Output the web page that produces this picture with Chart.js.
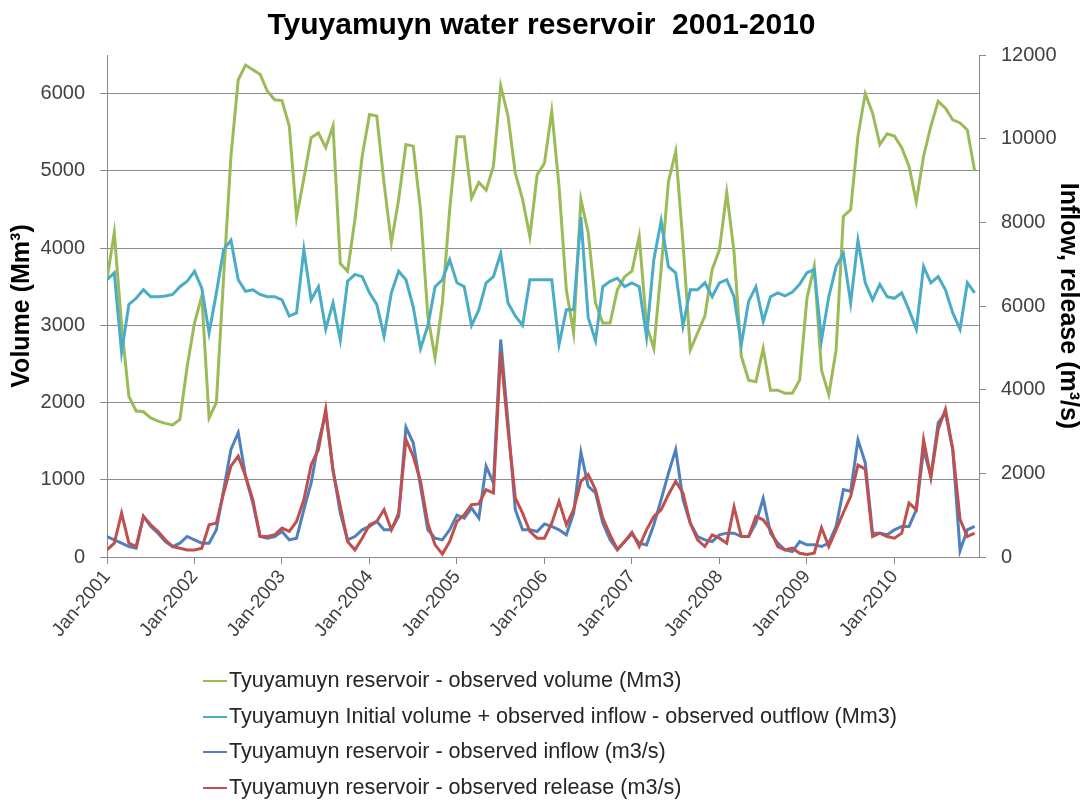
<!DOCTYPE html>
<html>
<head>
<meta charset="utf-8">
<title>Tyuyamuyn water reservoir 2001-2010</title>
<script src="https://cdn.jsdelivr.net/npm/chart.js@4.4.1/dist/chart.umd.min.js"></script>
<style>
body { margin: 0; background: #fff; font-family: "Liberation Sans", Arial, sans-serif; }
#wrap { position: relative; width: 1083px; height: 801px; }
#legend { position: absolute; left: 203px; top: 662px; }
.item { height: 35.5px; line-height: 35.5px; font-size: 21.6px; color: #262626; white-space: nowrap; }
.item .swatch { display: inline-block; width: 24px; height: 2px; vertical-align: middle; margin-right: 2px; }
</style>
</head>
<body>
<div id="wrap">
  <canvas id="myChart" width="1083" height="801"></canvas>
  <div id="legend"></div>
</div>
<script>
// monthly values Jan-2001 .. Dec-2010
var tickLabels = ['Jan-2001','Jan-2002','Jan-2003','Jan-2004','Jan-2005','Jan-2006','Jan-2007','Jan-2008','Jan-2009','Jan-2010'];
var volumeTicks = [0, 1000, 2000, 3000, 4000, 5000, 6000];
var flowTicks = [0, 2000, 4000, 6000, 8000, 10000, 12000];

var seriesNames = [
  'Tyuyamuyn reservoir - observed volume (Mm3)',
  'Tyuyamuyn Initial volume + observed inflow - observed outflow (Mm3)',
  'Tyuyamuyn reservoir - observed inflow (m3/s)',
  'Tyuyamuyn reservoir - observed release (m3/s)'
];

// observed volume (Mm3), left axis
var volume = [
  3600, 4200, 3000, 2080, 1890, 1880, 1800, 1760, 1730, 1710, 1780, 2470,
  3030, 3380, 1800, 2000, 3630, 5190, 6180, 6370, 6310, 6250, 6030, 5920,
  5910, 5580, 4400, 4900, 5430, 5490, 5300, 5580, 3800, 3700, 4370, 5190,
  5730, 5710, 4840, 4070, 4630, 5340, 5320, 4500, 3120, 2580, 3290, 4500,
  5440, 5440, 4650, 4850, 4750, 5060, 6100, 5710, 4970, 4630, 4150, 4950,
  5100, 5770, 4800, 3460, 2900, 4630, 4200, 3290, 3030, 3030, 3460, 3630,
  3700, 4150, 3000, 2700, 3720, 4860, 5250, 4070, 2680, 2900, 3120, 3720,
  3980, 4720, 3950, 2600, 2290, 2270, 2700, 2160, 2160, 2120, 2120, 2290,
  3350, 3760, 2420, 2100, 2680, 4410, 4500, 5450, 6000, 5750, 5340, 5480,
  5450, 5300, 5060, 4600, 5190, 5580, 5900, 5810, 5660, 5620, 5530, 5000
];

// initial volume + inflow - outflow (Mm3), left axis
var balance = [
  3590, 3680, 2650, 3270, 3350, 3460, 3370, 3370, 3380, 3400, 3500, 3570,
  3700, 3480, 2900, 3420, 3980, 4100, 3590, 3440, 3460, 3400, 3370, 3370,
  3330, 3120, 3160, 3980, 3330, 3500, 2950, 3290, 2810, 3570, 3660, 3630,
  3420, 3270, 2860, 3420, 3700, 3590, 3240, 2700, 2990, 3500, 3590, 3850,
  3550, 3500, 3000, 3200, 3550, 3630, 3930, 3290, 3120, 3000, 3590, 3590,
  3590, 3590, 2750, 3200, 3200, 4400, 3100, 2800, 3500, 3570, 3610, 3500,
  3550, 3500, 2850, 3850, 4350, 3760, 3680, 2990, 3460, 3460, 3550, 3370,
  3550, 3590, 3370, 2750, 3310, 3500, 3050, 3370, 3420, 3380, 3430, 3530,
  3680, 3720, 2810, 3370, 3760, 3930, 3290, 4100, 3550, 3330, 3530, 3370,
  3350, 3420, 3200, 2950, 3760, 3550, 3630, 3460, 3160, 2950, 3550, 3420
];

// observed inflow (m3/s), right axis
var inflow = [
  490, 410, 330, 250, 210, 970, 730, 570, 370, 250, 330, 490,
  410, 330, 330, 650, 1610, 2570, 2970, 1930, 1290, 490, 450, 490,
  610, 410, 450, 1130, 1770, 2730, 3450, 2090, 1050, 410, 490, 650,
  730, 850, 650, 650, 970, 3100, 2730, 1690, 650, 450, 410, 650,
  1000, 930, 1170, 930, 2170, 1770, 5200, 3210, 1130, 650, 650, 610,
  790, 730, 650, 530, 1050, 2500, 1690, 1530, 810, 410, 170, 370,
  550, 330, 290, 770, 1370, 2000, 2570, 1370, 810, 490, 410, 370,
  530, 570, 570, 490, 490, 810, 1400, 570, 330, 170, 130, 370,
  290, 290, 250, 330, 730, 1610, 1570, 2800, 2250, 570, 570, 530,
  650, 730, 730, 1130, 2570, 1930, 3210, 3450, 2570, 150, 650, 730
];

// observed release (m3/s), right axis
var release = [
  170, 330, 1050, 330, 250, 970, 770, 610, 410, 250, 210, 170,
  170, 210, 770, 810, 1530, 2170, 2410, 1930, 1370, 490, 490, 530,
  690, 610, 850, 1370, 2200, 2570, 3530, 2050, 1210, 370, 170, 450,
  770, 850, 1130, 650, 1050, 2810, 2410, 1810, 810, 290, 70, 370,
  850, 1010, 1250, 1270, 1610, 1530, 4890, 3050, 1410, 1050, 610, 450,
  450, 810, 1330, 770, 1130, 1810, 1970, 1610, 930, 530, 180, 370,
  590, 250, 650, 970, 1130, 1490, 1810, 1530, 810, 410, 250, 530,
  450, 330, 1200, 490, 490, 970, 890, 650, 250, 170, 210, 90,
  60, 90, 700, 250, 650, 1060, 1450, 2200, 2100, 490, 570, 490,
  450, 570, 1290, 1130, 2800, 1900, 3050, 3530, 2570, 900, 490, 570
];

var colors = ['#9bbb59', '#4bacc6', '#4f81bd', '#c0504d'];

function toPoints(arr) {
  return arr.map(function(v, i) { return { x: i, y: v }; });
}
function fixedTicks(list) {
  return function(scale) {
    scale.ticks = list.map(function(v) { return { value: v }; });
  };
}

var fontFamily = '"Liberation Sans", Arial, sans-serif';
var gridColor = '#8c8c8c';

var ctx = document.getElementById('myChart').getContext('2d');
var myChart = new Chart(ctx, {
  type: 'line',
  data: {
    datasets: [
      { label: seriesNames[0], data: toPoints(volume), yAxisID: 'yLeft', borderColor: colors[0], order: 4 },
      { label: seriesNames[1], data: toPoints(balance), yAxisID: 'yLeft', borderColor: colors[1], order: 3 },
      { label: seriesNames[2], data: toPoints(inflow), yAxisID: 'yRight', borderColor: colors[2], order: 2 },
      { label: seriesNames[3], data: toPoints(release), yAxisID: 'yRight', borderColor: colors[3], order: 1 }
    ]
  },
  options: {
    responsive: false,
    animation: false,
    events: [],
    datasets: {
      line: { borderWidth: 3, pointRadius: 0, tension: 0, fill: false }
    },
    layout: { padding: { left: 0, right: 0, top: 0, bottom: 150 } },
    plugins: {
      legend: { display: false },
      tooltip: { enabled: false },
      title: {
        display: true,
        text: 'Tyuyamuyn water reservoir  2001-2010',
        color: '#000',
        font: { family: fontFamily, size: 30, weight: 'bold' },
        padding: { top: 8, bottom: 11 }
      }
    },
    scales: {
      x: {
        type: 'linear',
        min: 0,
        max: 119.6,
        afterFit: function(s) { s.height = 94; },
        ticks: {
          stepSize: 12,
          includeBounds: false,
          autoSkip: false,
          minRotation: 50,
          maxRotation: 50,
          padding: 2,
          color: '#404040',
          font: { family: fontFamily, size: 19 },
          callback: function(v) { return tickLabels[Math.round(v / 12)]; }
        },
        grid: { drawOnChartArea: false, tickLength: 7, color: gridColor },
        border: { color: gridColor }
      },
      yLeft: {
        position: 'left',
        min: 0,
        max: 6500,
        afterFit: function(s) { s.width = 107; },
        afterBuildTicks: fixedTicks(volumeTicks),
        ticks: {
          padding: 15,
          color: '#404040',
          font: { family: fontFamily, size: 20 },
          callback: function(v) { return String(v); }
        },
        grid: { color: gridColor, tickLength: 7 },
        border: { color: gridColor },
        title: {
          display: true,
          text: 'Volume (Mm³)',
          color: '#000',
          font: { family: fontFamily, size: 25, weight: 'bold' },
          padding: { top: 7, bottom: 0 }
        }
      },
      yRight: {
        position: 'right',
        min: 0,
        max: 12000,
        afterFit: function(s) { s.width = 104; },
        afterBuildTicks: fixedTicks(flowTicks),
        ticks: {
          padding: 15,
          color: '#404040',
          font: { family: fontFamily, size: 20 },
          callback: function(v) { return String(v); }
        },
        grid: { drawOnChartArea: false, tickLength: 7, color: gridColor },
        border: { color: gridColor },
        title: {
          display: true,
          text: 'Inflow, release (m³/s)',
          color: '#000',
          font: { family: fontFamily, size: 25, weight: 'bold' },
          padding: { top: 0, bottom: 0 }
        }
      }
    }
  }
});

// legend, one entry per row like the original
var legend = document.getElementById('legend');
myChart.data.datasets.forEach(function(ds) {
  var row = document.createElement('div');
  row.className = 'item';
  var sw = document.createElement('span');
  sw.className = 'swatch';
  sw.style.background = ds.borderColor;
  row.appendChild(sw);
  row.appendChild(document.createTextNode(ds.label));
  legend.appendChild(row);
});
</script>
</body>
</html>
